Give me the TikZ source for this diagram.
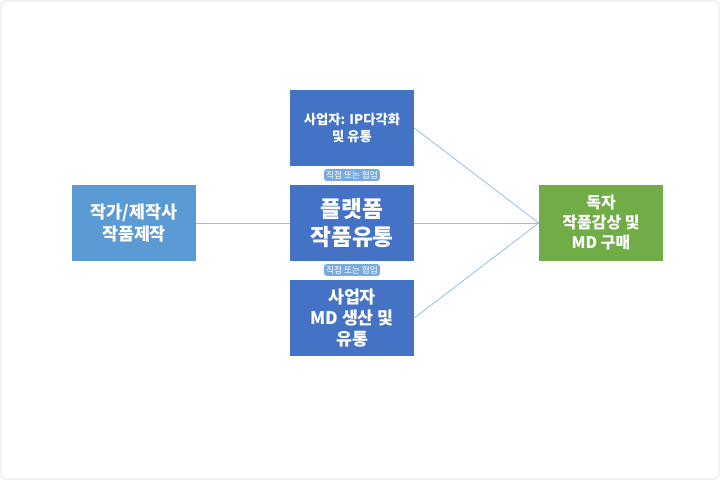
\documentclass[tikz,border=0pt]{standalone}
\usepackage{fontspec}
\newfontfamily\kr{Noto Sans CJK KR}
\definecolor{lb}{RGB}{91,155,213}
\definecolor{db}{RGB}{68,114,196}
\definecolor{gr}{RGB}{112,173,71}
\definecolor{ln}{RGB}{150,190,230}
\definecolor{tg}{RGB}{120,170,225}
\begin{document}
\begin{tikzpicture}[x=0.75pt,y=-0.75pt,
  box/.style={draw=none,fill=#1,text=white,align=center,minimum width=93pt,minimum height=57pt,inner sep=1pt},
  conn/.style={draw=ln,line width=0.6pt},
  tag/.style={fill=tg,text=white,font=\kr\fontsize{6.5}{7}\selectfont,inner sep=1.5pt,rounded corners=2pt}]
\useasboundingbox (0,0) rectangle (720,480);
\draw[gray!30,rounded corners=3pt] (1,1) rectangle (719,479);
\node[box=lb,font=\kr\bfseries\fontsize{13}{16}\selectfont] (w) at (134,223) {작가/제작사\\작품제작};
\node[box=db,font=\kr\bfseries\fontsize{10}{13}\selectfont] (t) at (352,128) {사업자: IP다각화\\및 유통};
\node[box=db,font=\kr\bfseries\fontsize{17}{21}\selectfont] (p) at (352,223) {플랫폼\\작품유통};
\node[box=db,font=\kr\bfseries\fontsize{13}{16}\selectfont] (b) at (352,318) {사업자\\MD 생산 및\\유통};
\node[box=gr,font=\kr\bfseries\fontsize{12}{15}\selectfont] (r) at (601,223) {독자\\작품감상 및\\MD 구매};
\node[tag] (l1) at (352,175) {직접 또는 협업};
\node[tag] (l2) at (352,270) {직접 또는 협업};
\draw[conn] (w) -- (p);
\draw[conn] (p) -- (r);
\draw[conn] (t.east) -- (r.west);
\draw[conn] (b.east) -- (r.west);
\end{tikzpicture}
\end{document}
